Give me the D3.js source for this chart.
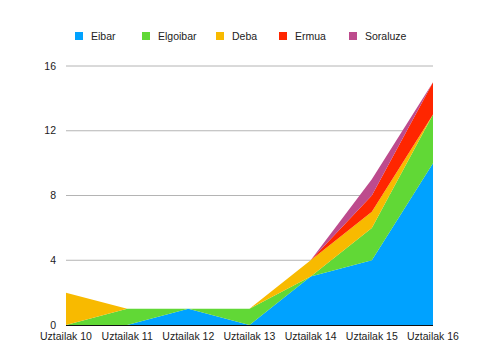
<!DOCTYPE html>
<html><head><meta charset="utf-8">
<script src="https://cdn.jsdelivr.net/npm/d3@7"></script>
<style>body{margin:0;background:#fff;} text{font-family:"Helvetica Neue",Helvetica,"Liberation Sans",Arial,sans-serif;}</style>
</head><body>
<svg id="c" width="490" height="360"></svg>
<script>
const categories = ["Uztailak 10","Uztailak 11","Uztailak 12","Uztailak 13","Uztailak 14","Uztailak 15","Uztailak 16"];
const seriesNames = ["Eibar","Elgoibar","Deba","Ermua","Soraluze"];
const eibar    = [0, 0, 1, 0, 3, 4, 10];
const elgoibar = [0, 1, 0, 1, 0, 2, 3];
const deba     = [2, 0, 0, 0, 1, 1, 0];
const ermua    = [0, 0, 0, 0, 0, 1, 2];
const soraluze = [0, 0, 0, 0, 0, 1, 0];
const yTicks = [0, 4, 8, 12, 16];
const colors = ["#00a2ff","#61d836","#f8ba00","#ff2600","#bd4b8d"];

const seriesVals = [eibar, elgoibar, deba, ermua, soraluze];
const table = categories.map((c,i)=>{const o={cat:c}; seriesNames.forEach((s,j)=>o[s]=seriesVals[j][i]); return o;});
const stack = d3.stack().keys(seriesNames)(table);

const svg = d3.select("#c");
const x = d3.scalePoint().domain(categories).range([66,433]);
const y = d3.scaleLinear().domain([0,16]).range([325,66]);

// gridlines
svg.append("g").selectAll("line").data(yTicks.filter(t=>t>0)).join("line")
  .attr("x1",66).attr("x2",433).attr("y1",d=>y(d)).attr("y2",d=>y(d))
  .attr("stroke","#b4b4b4").attr("stroke-width",1);

// y labels
svg.append("g").selectAll("text").data(yTicks).join("text")
  .attr("x",56).attr("y",d=>y(d)).attr("dy","0.35em").attr("text-anchor","end")
  .attr("font-size",10.5).attr("fill","#222").text(d=>d);

// areas
const area = d3.area().x((d,i)=>x(categories[i])).y0(d=>y(d[0])).y1(d=>y(d[1]));
svg.append("g").selectAll("path").data(stack).join("path")
  .attr("d",area).attr("fill",(d,i)=>colors[i]);

// baseline
svg.append("line").attr("x1",66).attr("x2",433).attr("y1",y(0)+0.5).attr("y2",y(0)+0.5)
  .attr("stroke","#111").attr("stroke-width",1.2);

// x labels
svg.append("g").selectAll("text").data(categories).join("text")
  .attr("x",d=>x(d)).attr("y",340).attr("text-anchor","middle")
  .attr("font-size",10.5).attr("fill","#222").text(d=>d);

// legend
const legX = [75, 142, 216, 279, 349];
const leg = svg.append("g").selectAll("g").data(seriesNames).join("g")
  .attr("transform",(d,i)=>`translate(${legX[i]},32)`);
leg.append("rect").attr("width",8).attr("height",8).attr("fill",(d,i)=>colors[i]);
leg.append("text").attr("x",16).attr("y",4).attr("dy","0.35em").attr("font-size",10.5).attr("fill","#222").text(d=>d);
</script>
</body></html>
